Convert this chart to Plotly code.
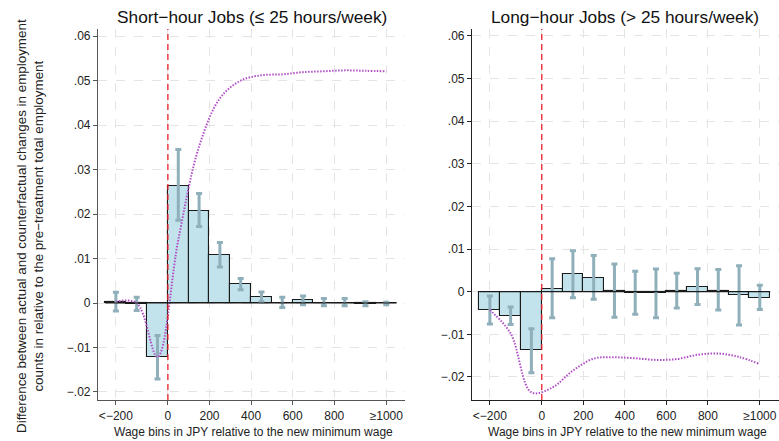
import plotly.graph_objects as go

# ---------------- data ----------------
bins = [-250, -150, -50, 50, 150, 250, 350, 450, 550, 650, 750, 850, 950, 1050]

short_vals = [0.0003, -0.0003, -0.0122, 0.0264, 0.0208, 0.0107, 0.0042, 0.0013,
              0.0001, 0.0006, 0.0001, 0.0001, -0.0003, -0.0001]
short_hi = [0.0024, 0.0013, -0.0073, 0.0345, 0.0246, 0.0136, 0.0055, 0.0025,
            0.0013, 0.0016, 0.0010, 0.0010, 0.0003, 0.0002]
short_lo = [-0.0018, -0.0017, -0.0171, 0.0186, 0.0172, 0.0081, 0.0030, 0.0003,
            -0.0010, -0.0004, -0.0006, -0.0006, -0.0006, -0.0004]
short_cum = [0.0003, 0.0000, -0.0121, 0.0142, 0.0352, 0.0460, 0.0500, 0.0512,
             0.0514, 0.0519, 0.0521, 0.0523, 0.0522, 0.0521]

long_vals = [-0.0042, -0.0056, -0.0137, 0.0007, 0.0041, 0.0032, 0.0002, -0.0002,
             -0.0003, 0.0001, 0.0011, 0.0002, -0.0008, -0.0014]
long_hi = [-0.0010, -0.0036, -0.0087, 0.0077, 0.0096, 0.0085, 0.0065, 0.0048,
           0.0053, 0.0043, 0.0054, 0.0052, 0.0061, 0.0015]
long_lo = [-0.0076, -0.0077, -0.0190, -0.0061, -0.0014, -0.0018, -0.0060, -0.0053,
           -0.0061, -0.0038, -0.0030, -0.0043, -0.0078, -0.0042]
long_cum = [-0.0043, -0.0098, -0.0236, -0.0225, -0.0185, -0.0157, -0.0154, -0.0156,
            -0.0160, -0.0158, -0.0148, -0.0145, -0.0153, -0.0170]

x_tick_vals = [-250, 0, 200, 400, 600, 800, 1050]
x_tick_text = ["<\u2212200", "0", "200", "400", "600", "800", "\u22651000"]
y_tick_vals = [-0.02, -0.01, 0, 0.01, 0.02, 0.03, 0.04, 0.05, 0.06]
y_tick_text = ["\u2212.02", "\u2212.01", "0", ".01", ".02", ".03", ".04", ".05", ".06"]

titles = ["Short\u2212hour Jobs (\u2264 25 hours/week)", "Long\u2212hour Jobs (> 25 hours/week)"]
x_title = "Wage bins in JPY relative to the new minimum wage"
y_title = ("Difference between actual and counterfactual changes in employment<br>"
           "counts in relative to the pre\u2212treatment total employment")

# ---------------- styling ----------------
W, H = 779, 441
FONT = "Liberation Sans, Arial, Helvetica, sans-serif"
BAR_FILL = "#c2e2ec"
ERR_COL = "#8fb0bb"
CUM_COL = "#b24fc6"
GRID = "#e4e4e4"
BIN_W = 100


def fx(p):
    return p / W


def fy(p):
    return 1 - p / H


fig = go.Figure()

panels = [
    dict(vals=short_vals, hi=short_hi, lo=short_lo, cum=short_cum, xa="x", ya="y",
         dom=[fx(98), fx(405)], yr=[-0.0218, 0.0616], axcol="#555555"),
    dict(vals=long_vals, hi=long_hi, lo=long_lo, cum=long_cum, xa="x2", ya="y2",
         dom=[fx(472), fx(778.5)], yr=[-0.0254, 0.0616], axcol="#222222"),
]

ydom = [fy(400), fy(29)]

for i, p in enumerate(panels):
    arr = [h - v for h, v in zip(p["hi"], p["vals"])]
    arrm = [v - l for v, l in zip(p["vals"], p["lo"])]
    fig.add_trace(go.Bar(
        x=bins, y=p["vals"], width=BIN_W, xaxis=p["xa"], yaxis=p["ya"],
        marker=dict(color=BAR_FILL, line=dict(color="#1a1a1a", width=1.1)),
        error_y=dict(type="data", symmetric=False, array=arr, arrayminus=arrm,
                     color=ERR_COL, thickness=3, width=3),
        showlegend=False, hoverinfo="skip"))
    fig.add_trace(go.Scatter(
        x=bins, y=p["cum"], mode="lines", xaxis=p["xa"], yaxis=p["ya"],
        line=dict(color=CUM_COL, width=2, dash="1.5px,1.5px", shape="spline", smoothing=1.0),
        showlegend=False, hoverinfo="skip"))

    sfx = "" if i == 0 else "2"
    fig.update_layout(**{
        "xaxis" + sfx: dict(
            domain=p["dom"], range=[-336, 1140], anchor="y" + sfx,
            tickmode="array", tickvals=x_tick_vals, ticktext=x_tick_text,
            ticks="outside", ticklen=4, tickcolor=p["axcol"],
            showline=True, linecolor=p["axcol"], linewidth=1.2,
            showgrid=True, gridcolor=GRID, griddash="dash", gridwidth=1,
            zeroline=False, tickfont=dict(size=12, color="#222", family=FONT)),
        "yaxis" + sfx: dict(
            domain=ydom, range=p["yr"], anchor="x" + sfx,
            tickmode="array", tickvals=y_tick_vals, ticktext=y_tick_text,
            ticks="outside", ticklen=4, tickcolor=p["axcol"],
            showline=True, linecolor=p["axcol"], linewidth=1.2,
            showgrid=True, gridcolor=GRID, griddash="dash", gridwidth=1,
            zeroline=False, tickfont=dict(size=12, color="#222", family=FONT)),
    })

    # black baseline at zero across the bins
    fig.add_shape(type="line", xref=p["xa"], yref=p["ya"],
                  x0=bins[0] - BIN_W / 2, x1=bins[-1] + BIN_W / 2, y0=0, y1=0,
                  line=dict(color="#1a1a1a", width=1.2), layer="above")
    # red dashed line at the new minimum wage
    fig.add_shape(type="line", xref=p["xa"], yref="paper",
                  x0=0, x1=0, y0=ydom[0], y1=ydom[1],
                  line=dict(color="#e8202a", width=1.3, dash="6px,4px"), layer="above")

    cx = (p["dom"][0] + p["dom"][1]) / 2
    fig.add_annotation(text=titles[i], x=cx, y=fy(17), xref="paper", yref="paper",
                       showarrow=False, xanchor="center", yanchor="middle",
                       font=dict(size=17.3, color="#111", family=FONT))
    fig.add_annotation(text=x_title, x=cx + fx(2), y=fy(432), xref="paper", yref="paper",
                       showarrow=False, xanchor="center", yanchor="middle",
                       font=dict(size=12, color="#222", family=FONT))

fig.add_annotation(text=y_title, x=fx(30), y=fy(226), xref="paper", yref="paper",
                   showarrow=False, textangle=-90, xanchor="center", yanchor="middle",
                   font=dict(size=13.4, color="#222", family=FONT))

fig.update_layout(
    width=W, height=H, margin=dict(l=0, r=0, t=0, b=0),
    paper_bgcolor="white", plot_bgcolor="white",
    bargap=0, barmode="overlay", font=dict(family=FONT),
)

fig.write_html("out.html")
